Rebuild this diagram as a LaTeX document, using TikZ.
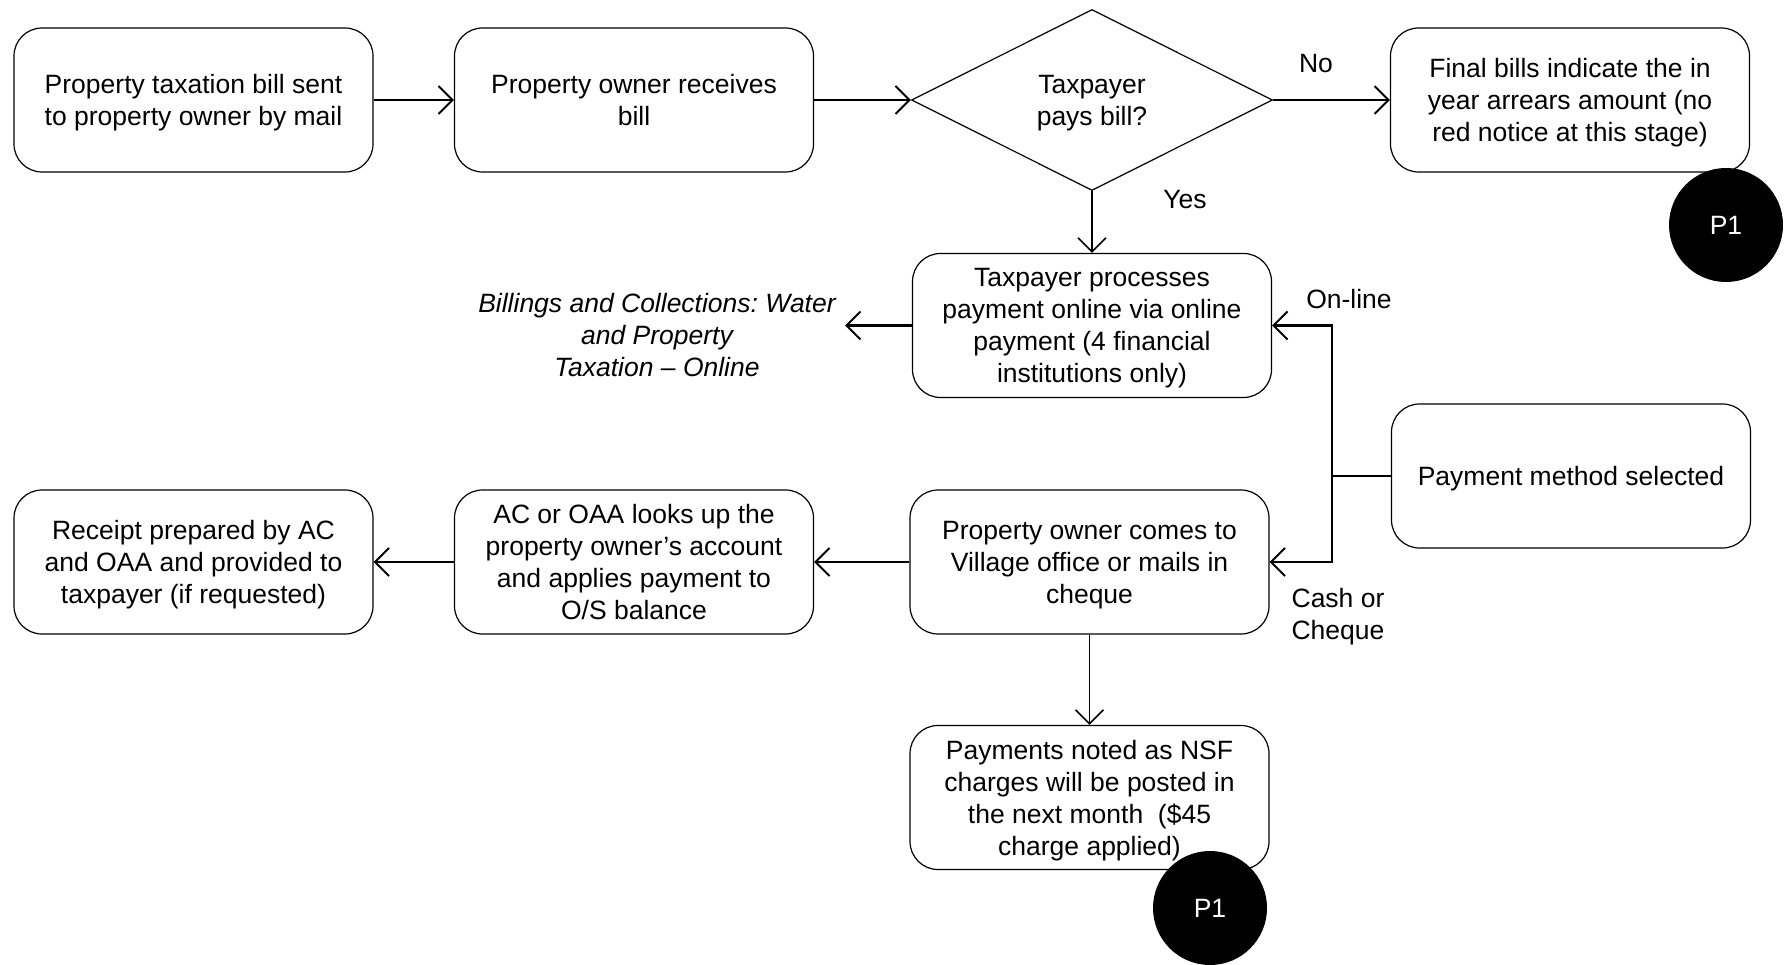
\documentclass[tikz,border=0pt]{standalone}
\usepackage{fontspec}
\setmainfont{Liberation Sans}
\frenchspacing
\usetikzlibrary{arrows.meta,shapes.geometric}
\begin{document}
\begin{tikzpicture}[x=1pt,y=-1pt,
  font=\fontsize{26.5}{32}\selectfont,
  box/.style={draw=black,line width=1.2pt,rounded corners=28pt,minimum width=359pt,minimum height=144pt,align=center,inner sep=0pt,text depth=0pt},
  dec/.style={draw=black,line width=1.2pt,shape=diamond,aspect=2,minimum width=361pt,minimum height=181pt,align=center,inner sep=0pt,text depth=0pt},
  lbl/.style={align=center,inner sep=0pt},
  conn/.style={line width=2.2pt,-{Straight Barb[length=14pt,width=28pt,line width=2pt]}},
  thin/.style={line width=1.6pt,-{Straight Barb[length=14pt,width=28pt,line width=1.6pt]}},
  plain/.style={line width=2.2pt},
  pone/.style={circle,fill=black,text=white,minimum size=114pt,inner sep=0pt}]
\useasboundingbox (0,0) rectangle (1785,965);
\node[box] (b1) at (193.5,100) {Property taxation bill sent\\to property owner by mail};
\node[box] (b2) at (634,100) {Property owner receives\\bill};
\node[dec] (d) at (1092,100) {Taxpayer\\pays bill?};
\node[box] (fin) at (1570,100) {Final bills indicate the in\\year arrears amount (no\\red notice at this stage)};
\node[box] (tp) at (1092,325.5) {Taxpayer processes\\payment online via online\\payment (4 financial\\institutions only)};
\node[lbl,font=\fontsize{26.5}{32}\selectfont\itshape] (bill) at (657,335) {Billings and Collections: Water\\and Property\\Taxation -- Online};
\coordinate (billpt) at (845,325.5);
\node[box] (pm) at (1571,476) {Payment method selected};
\node[box] (po) at (1089.5,562) {Property owner comes to\\Village office or mails in\\cheque};
\node[box] (ac) at (634,562) {AC or OAA looks up the\\property owner’s account\\and applies payment to\\O/S balance};
\node[box] (rc) at (193.5,562) {Receipt prepared by AC\\and OAA and provided to\\taxpayer (if requested)};
\node[box] (nsf) at (1089.5,797.5) {Payments noted as NSF\\charges will be posted in\\the next month\ \ (\$45\\charge applied)};
\coordinate (jn) at (1332,476);
\node[lbl] (no) at (1316,64) {No};
\node[lbl] (yes) at (1185,200) {Yes};
\node[lbl] (on) at (1349,299) {On-line};
\node[lbl] (cc) at (1338,617) {Cash or\\Cheque};
\draw[conn] (b1) -- (b2);
\draw[conn] (b2) -- (d.west);
\draw[conn] (d.east) -- (fin);
\draw[thin] (d.south) -- (tp);
\draw[conn] (tp) -- (billpt);
\draw[plain] (pm) -- (jn);
\draw[conn] (jn) |- (tp.east);
\draw[conn] (jn) |- (po.east);
\draw[conn] (po) -- (ac);
\draw[conn] (ac) -- (rc);
\draw[thin] (po) -- (nsf);
\node[pone] (p1a) at (1726,225) {P1};
\node[pone] (p1b) at (1210,908) {P1};
\end{tikzpicture}
\end{document}
